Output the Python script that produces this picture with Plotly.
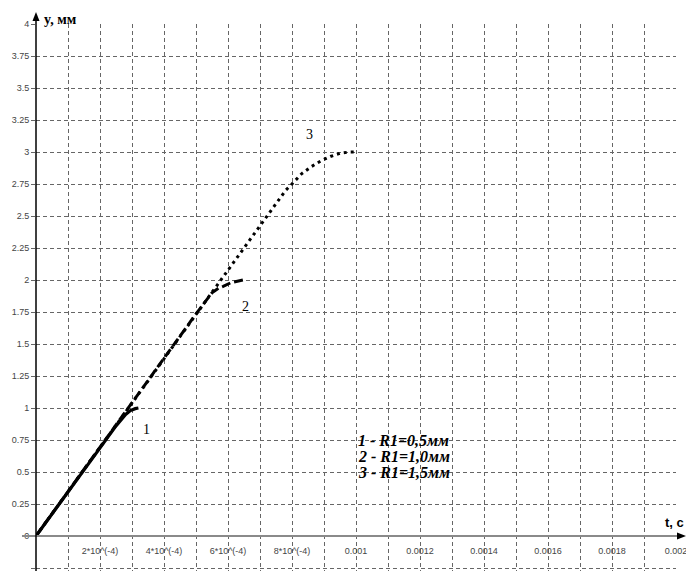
import plotly.graph_objects as go

# ---- data ----
t1 = [0, 1.0e-4, 2.0e-4, 2.5e-4, 2.8e-4, 2.95e-4, 3.1e-4, 3.2e-4]
y1 = [0, 0.347, 0.694, 0.86, 0.95, 0.98, 0.995, 1.0]

t2 = [0, 1.0e-4, 2.0e-4, 3.0e-4, 4.0e-4, 5.0e-4, 5.5e-4, 5.7e-4, 5.85e-4, 6.1e-4, 6.47e-4]
y2 = [0, 0.347, 0.694, 1.04, 1.39, 1.735, 1.9, 1.935, 1.95, 1.98, 2.0]

t3 = [0, 1.0e-4, 2.0e-4, 3.0e-4, 4.0e-4, 5.0e-4, 6.0e-4, 6.5e-4, 7.0e-4, 7.5e-4,
      7.8e-4, 8.0e-4, 8.3e-4, 8.6e-4, 8.9e-4, 9.2e-4, 9.5e-4, 9.8e-4, 1.0e-3]
y3 = [0, 0.347, 0.694, 1.04, 1.39, 1.735, 2.08, 2.255, 2.43, 2.6,
      2.70, 2.75, 2.83, 2.885, 2.93, 2.965, 2.99, 3.0, 3.0]

x_tickvals = [0, 1e-4, 2e-4, 3e-4, 4e-4, 5e-4, 6e-4, 7e-4, 8e-4, 9e-4, 1e-3,
              1.1e-3, 1.2e-3, 1.3e-3, 1.4e-3, 1.5e-3, 1.6e-3, 1.7e-3, 1.8e-3, 1.9e-3, 2e-3]
x_ticklabels = ["", "", "2*10^(-4)", "", "4*10^(-4)", "", "6*10^(-4)", "", "8*10^(-4)", "",
                "0.001", "", "0.0012", "", "0.0014", "", "0.0016", "", "0.0018", "", "0.002"]

curve_names = ["1", "2", "3"]
curve_label_pos = [(3.44e-4, 0.836), (6.56e-4, 1.79), (8.56e-4, 3.14)]
legend_lines = ["1 - R1=0,5мм", "2 - R1=1,0мм", "3 - R1=1,5мм"]
legend_y = [0.75, 0.625, 0.5]

fig = go.Figure()
fig.add_trace(go.Scatter(x=t3, y=y3, mode="lines",
                         line=dict(color="black", width=3, dash="3px,4px"), showlegend=False))
fig.add_trace(go.Scatter(x=t2, y=y2, mode="lines",
                         line=dict(color="black", width=3, dash="9px,4px"), showlegend=False))
fig.add_trace(go.Scatter(x=t1, y=y1, mode="lines",
                         line=dict(color="black", width=3.2), showlegend=False))

annotations = []
for name, (tx, ty) in zip(curve_names, curve_label_pos):
    annotations.append(dict(x=tx, y=ty, xref="x", yref="y", text=name, showarrow=False,
                            font=dict(family="Liberation Serif", size=14, color="black")))
for line, ly in zip(legend_lines, legend_y):
    annotations.append(dict(x=0.001, y=ly, xref="x", yref="y", text="<b><i>" + line + "</i></b>",
                            showarrow=False, xanchor="left", xshift=0,
                            font=dict(family="Liberation Serif", size=16, color="black")))
annotations.append(dict(x=0.009, y=1.0075, xref="paper", yref="paper", text="<b>y, мм</b>",
                        showarrow=False, xanchor="left", yanchor="middle",
                        font=dict(family="Liberation Serif", size=14, color="black")))
annotations.append(dict(x=0.998, y=0.088, xref="paper", yref="paper", text="<b>t, c</b>",
                        showarrow=False, xanchor="center", yanchor="middle",
                        font=dict(family="Liberation Sans", size=13, color="black")))

x0p = 0.06399  # paper y of data y=0
shapes = [
    dict(type="line", xref="paper", yref="paper", x0=-0.0219, x1=1.005, y0=x0p, y1=x0p,
         line=dict(color="#8a8a8a", width=2)),
    dict(type="path", xref="paper", yref="paper",
         path=f"M 1.0156 {x0p} L 1.0016 {x0p+0.0064} L 1.0016 {x0p-0.0064} Z",
         fillcolor="black", line=dict(color="black", width=0)),
    dict(type="line", xref="paper", yref="paper", x0=0, x1=0, y0=0, y1=1.01,
         line=dict(color="black", width=1.5)),
    dict(type="path", xref="paper", yref="paper",
         path="M 0 1.0219 L -0.0055 1.0055 L 0.0055 1.0055 Z",
         fillcolor="black", line=dict(color="black", width=0)),
]

fig.update_layout(
    width=686, height=571,
    margin=dict(l=36, r=10, t=24, b=0),
    paper_bgcolor="white", plot_bgcolor="white",
    annotations=annotations, shapes=shapes,
    xaxis=dict(range=[0, 0.002], tickmode="array", tickvals=x_tickvals, ticktext=x_ticklabels,
               showgrid=True, gridcolor="#666666", gridwidth=1, griddash="4px,3px",
               zeroline=False, showline=False, anchor="free", position=x0p,
               ticks="outside", ticklen=6, tickcolor="rgba(0,0,0,0)",
               ticklabeloverflow="allow",
               tickfont=dict(family="Liberation Sans", size=9, color="#444")),
    yaxis=dict(range=[-0.2734, 4], tick0=0, dtick=0.25,
               showgrid=True, gridcolor="#666666", gridwidth=1, griddash="4px,3px",
               zeroline=False, showline=False,
               ticks="outside", ticklen=4, tickcolor="#666666",
               tickfont=dict(family="Liberation Sans", size=9, color="#444")),
)

fig.write_html("out.html")
